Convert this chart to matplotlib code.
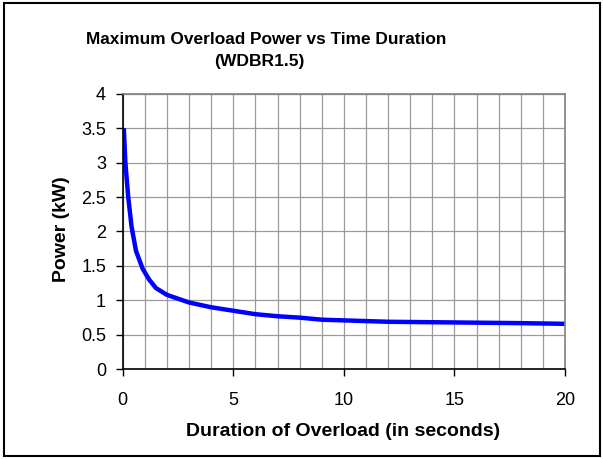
import matplotlib
matplotlib.use("Agg")
import matplotlib.pyplot as plt
from matplotlib.patches import Rectangle
from matplotlib.ticker import MultipleLocator

plt.rcParams['font.family'] = ['Liberation Sans', 'DejaVu Sans']

# overload duration (s) and maximum power (kW)
duration = [0.05, 0.12, 0.25, 0.4, 0.6, 0.9, 1.2, 1.5, 2, 3, 4, 5, 6, 7, 8, 9, 10, 12, 15, 18, 20]
power = [3.5, 3.0, 2.5, 2.07, 1.72, 1.46, 1.3, 1.18, 1.08, 0.97, 0.9, 0.85, 0.8, 0.77, 0.75, 0.72,
         0.71, 0.69, 0.68, 0.67, 0.66]

x_ticks = [0, 5, 10, 15, 20]
y_ticks = [0, 0.5, 1, 1.5, 2, 2.5, 3, 3.5, 4]

fig = plt.figure(figsize=(6.03, 4.59), dpi=100)
ax = fig.add_axes([0.2035, 0.1954, 0.7335, 0.6005])

ax.plot(duration, power, color='#0000ff', linewidth=3.2, solid_capstyle='butt')

ax.set_xlim(0, 20)
ax.set_ylim(0, 4)
ax.set_xticks(x_ticks)
ax.set_yticks(y_ticks)
ax.set_yticklabels([f'{v:g}' for v in y_ticks])
ax.xaxis.set_minor_locator(MultipleLocator(1))
ax.grid(True, which='both', color='#9a9a9a', linewidth=0.9)
ax.set_axisbelow(True)
ax.tick_params(axis='both', which='major', direction='out', length=5, width=1,
               color='black', labelsize=13)
ax.tick_params(axis='x', which='major', pad=11)
ax.tick_params(axis='y', which='major', pad=7)
ax.tick_params(axis='x', which='minor', length=0)

for side in ['top', 'right']:
    ax.spines[side].set_color('#808080')
    ax.spines[side].set_linewidth(1.2)
for side in ['left', 'bottom']:
    ax.spines[side].set_color('black')
    ax.spines[side].set_linewidth(1.2)

fig.text(265.7 / 603, 1 - 39.7 / 459, 'Maximum Overload Power vs Time Duration',
         ha='center', va='center', fontsize=12.4, fontweight='bold')
fig.text(259 / 603, 1 - 61.5 / 459, '(WDBR1.5)',
         ha='center', va='center', fontsize=12.6, fontweight='bold')
fig.text(343 / 603, 1 - 431 / 459, 'Duration of Overload (in seconds)',
         ha='center', va='center', fontsize=14, fontweight='bold')
fig.text(61 / 603, 1 - 229 / 459, 'Power (kW)', rotation=90,
         ha='center', va='center', fontsize=14, fontweight='bold')

fig.patches.append(Rectangle((4 / 603, 3 / 459), 596 / 603, 453 / 459, transform=fig.transFigure,
                             fill=False, edgecolor='black', linewidth=1.5))

fig.savefig('out.png', dpi=100)
